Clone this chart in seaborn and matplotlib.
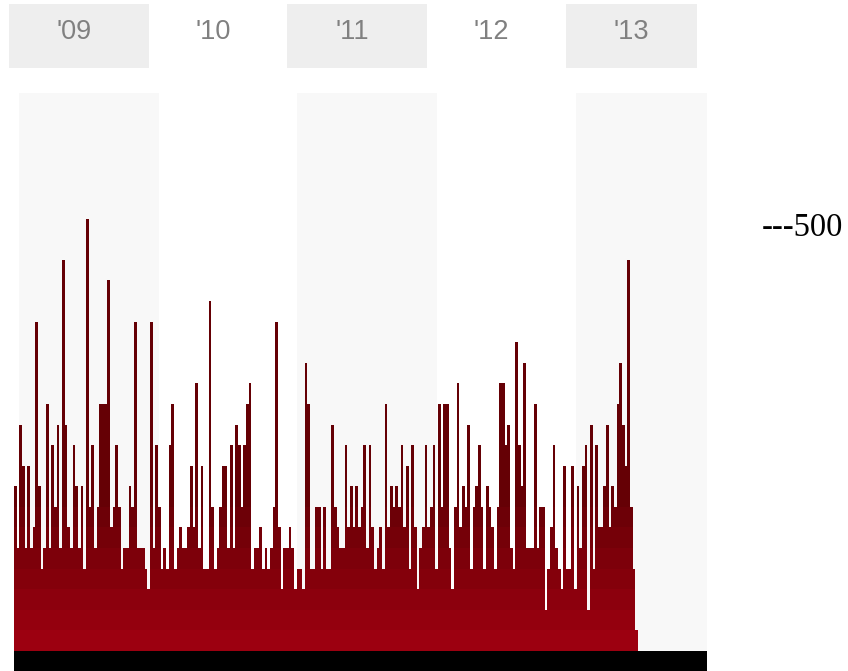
#!/usr/bin/env python
"""
Weekly counts 2009-2013, drawn as stacked unit blocks with year bands.
"""

# --- Imports
import numpy as np
import pandas as pd
import seaborn as sns
import matplotlib.pyplot as plt

# --- Data

# weekly counts, one bar per week (in blocks of one unit)
heights = [
    8, 5, 11, 9, 5, 9, 5, 6, 16, 8, 4, 5, 12, 5, 10, 7, 11, 5, 19, 11,
    6, 5, 10, 8, 5, 8, 4, 21, 7, 10, 5, 7, 12, 12, 12, 18, 6, 7, 10, 7,
    4, 5, 5, 8, 7, 16, 5, 5, 5, 4, 3, 16, 5, 10, 7, 4, 5, 4, 10, 12,
    4, 5, 6, 5, 5, 6, 9, 6, 13, 5, 9, 4, 4, 17, 7, 4, 5, 7, 9, 9,
    5, 10, 5, 11, 10, 7, 10, 12, 13, 4, 5, 5, 6, 4, 5, 4, 5, 7, 16, 6,
    3, 5, 5, 6, 5, 3, 4, 4, 3, 14, 12, 4, 4, 7, 7, 4, 7, 4, 4, 11,
    7, 6, 5, 5, 10, 6, 8, 6, 8, 6, 7, 10, 5, 10, 6, 4, 5, 6, 4, 12,
    6, 8, 7, 8, 7, 10, 6, 9, 4, 10, 6, 3, 5, 6, 10, 6, 7, 10, 4, 12,
    7, 12, 12, 5, 3, 7, 13, 6, 8, 7, 11, 4, 7, 8, 10, 7, 4, 8, 7, 6,
    4, 7, 13, 13, 10, 11, 5, 4, 15, 10, 8, 14, 5, 5, 5, 12, 5, 7, 7, 2,
    4, 6, 10, 5, 4, 3, 9, 4, 4, 9, 3, 8, 5, 9, 10, 2, 11, 4, 10, 6,
    6, 8, 11, 6, 8, 7, 12, 14, 11, 9, 19, 7, 4, 1,
]

first_week = '2008-12-19'
last_day = '2013-12-12'
year_labels = ["'09", "'10", "'11", "'12", "'13"]
year_starts = ['2009-01-01', '2010-01-01', '2011-01-01', '2012-01-01', '2013-01-01']
year_shaded = [True, False, True, False, True]
scale_label = '---500'


def to_week(day):
    """Date -> position on the weekly axis (bar i sits at i)."""
    return (pd.Timestamp(day) - pd.Timestamp(first_week)).days / 7 - 0.5


# --- Main program

def main():
    sns.set_style('white')
    plt.rcParams['font.family'] = ['Liberation Sans', 'DejaVu Sans']

    fig = plt.figure(figsize=(8.48, 6.71), dpi=100)
    W, H = 848, 671

    # main plot area: x 14..707 px, y 93..671 px
    ax = fig.add_axes([14 / W, 0, 693 / W, 578 / H])
    # header strip, offset 10 px to the left
    hax = fig.add_axes([4 / W, (H - 68) / H, 693 / W, 64 / H])

    x0, x1 = to_week(first_week), to_week(last_day)
    weeks = np.arange(len(heights))
    h = np.array(heights)

    # year bands
    for start, shaded in zip(year_starts, year_shaded):
        end = str(pd.Timestamp(start).year + 1) + '-01-03'
        if shaded:
            ax.axvspan(to_week(start), to_week(end), color='#f8f8f8', lw=0, zorder=0)
            hax.axvspan(to_week(start), to_week(end), color='#eeeeee', lw=0, zorder=0)

    # stacked unit blocks: bright red at the bottom, darker upward
    colors = sns.blend_palette(['#9c0010', '#650005'], 8)
    for k in range(h.max(), 0, -1):
        sns.barplot(x=weeks, y=np.minimum(h, k), native_scale=True, width=1,
                    color=colors[min(k, 8) - 1], saturation=1, errorbar=None,
                    linewidth=0, antialiased=False, zorder=1, ax=ax)

    ax.axhspan(-2, 0, color='black', lw=0, zorder=3)
    ax.set_xlim(x0, x1)
    ax.set_ylim(-0.97, 27.1)
    ax.set_axis_off()

    # year labels
    for label, start in zip(year_labels, year_starts):
        mid = pd.Timestamp(start) + pd.Timedelta(days=172)
        hax.text(to_week(mid), 0.45, label, ha='center', va='baseline',
                 fontsize=19.5, color='#808080')
    hax.set_xlim(x0, x1)
    hax.set_ylim(0, 1)
    hax.set_axis_off()

    fig.text(762 / W, 1 - 236 / H, scale_label, ha='left', va='baseline',
             fontsize=23.5, family=['Liberation Serif', 'DejaVu Serif'], color='black')

    fig.savefig('out.png', dpi=100, facecolor='white')


if __name__ == '__main__':
    main()
